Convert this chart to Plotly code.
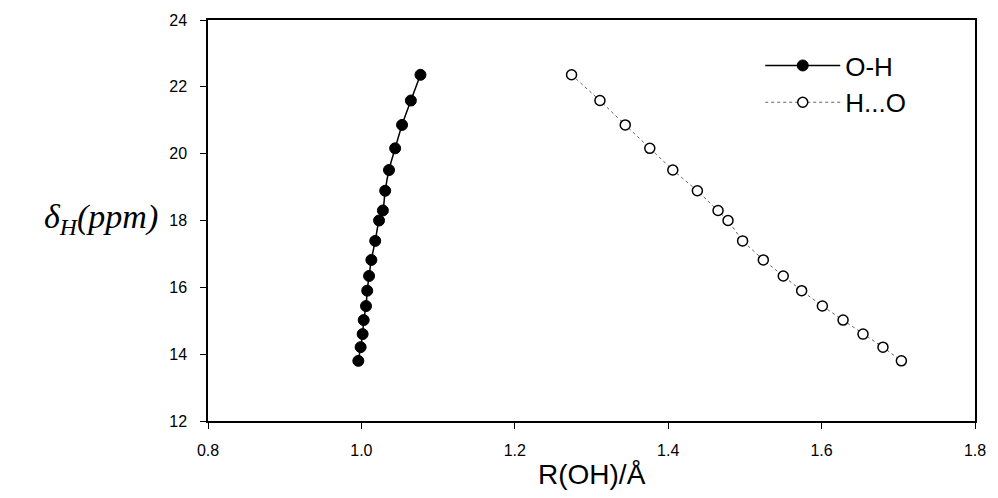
import plotly.graph_objects as go

# Data
delta_h = [22.36, 21.59, 20.86, 20.16, 19.51, 18.89, 18.30, 18.00, 17.39,
           16.82, 16.34, 15.90, 15.44, 15.02, 14.60, 14.21, 13.80]
r_oh = [1.077, 1.0645, 1.053, 1.044, 1.036, 1.031, 1.028, 1.023, 1.018,
        1.013, 1.010, 1.0076, 1.006, 1.003, 1.0016, 0.999, 0.996]
r_ho = [1.274, 1.311, 1.344, 1.376, 1.406, 1.438, 1.465, 1.478, 1.497,
        1.524, 1.550, 1.574, 1.601, 1.628, 1.654, 1.680, 1.704]

x_ticks = [0.8, 1.0, 1.2, 1.4, 1.6, 1.8]
y_ticks = [12, 14, 16, 18, 20, 22, 24]

fig = go.Figure()
fig.add_trace(go.Scatter(
    x=r_oh, y=delta_h, name="O-H", mode="lines+markers",
    line=dict(color="black", width=1.5, shape="spline"),
    marker=dict(symbol="circle", size=11, color="black",
                line=dict(color="black", width=1)),
))
fig.add_trace(go.Scatter(
    x=r_ho, y=delta_h, name="H...O", mode="lines+markers",
    line=dict(color="#666666", width=1, dash="dot"),
    marker=dict(symbol="circle", size=10, color="white",
                line=dict(color="black", width=1.5)),
))

axis_common = dict(
    showgrid=False, zeroline=False, showline=True, linecolor="black",
    linewidth=1.5, mirror=True, ticks="outside", ticklen=6,
    tickcolor="black", tickwidth=1.2,
    tickfont=dict(family="Liberation Sans, Arial", size=16, color="black"),
)

fig.update_xaxes(range=[0.8, 1.8], tickvals=x_ticks,
                 ticktext=[f"{v:.1f}" for v in x_ticks],
                 ticklabelstandoff=8, **axis_common)
fig.update_yaxes(range=[12, 24], tickvals=y_ticks,
                 ticktext=[str(v) for v in y_ticks],
                 ticklabelstandoff=10, **axis_common)

fig.add_annotation(
    text="R(OH)/Å", xref="paper", yref="paper", x=0.5, y=0,
    yshift=-36, yanchor="top", xanchor="center", showarrow=False,
    font=dict(family="Liberation Sans, Arial", size=28, color="black"),
)
fig.add_annotation(
    text="<i>δ<sub>H</sub>(ppm)</i>", xref="paper", yref="paper",
    x=0, y=(421 - 219) / 401, xshift=-48, xanchor="right", yanchor="middle",
    showarrow=False,
    font=dict(family="Liberation Serif, Times New Roman", size=34, color="black"),
)

fig.update_layout(
    width=998, height=498,
    margin=dict(l=208, r=16, t=20, b=77),
    paper_bgcolor="white", plot_bgcolor="white",
    showlegend=True,
    legend=dict(x=0.72, y=0.945, xanchor="left", yanchor="top",
                bgcolor="rgba(0,0,0,0)",
                font=dict(family="Liberation Sans, Arial", size=26, color="black"),
                tracegroupgap=0, itemwidth=75),
)

fig.write_html("out.html")
